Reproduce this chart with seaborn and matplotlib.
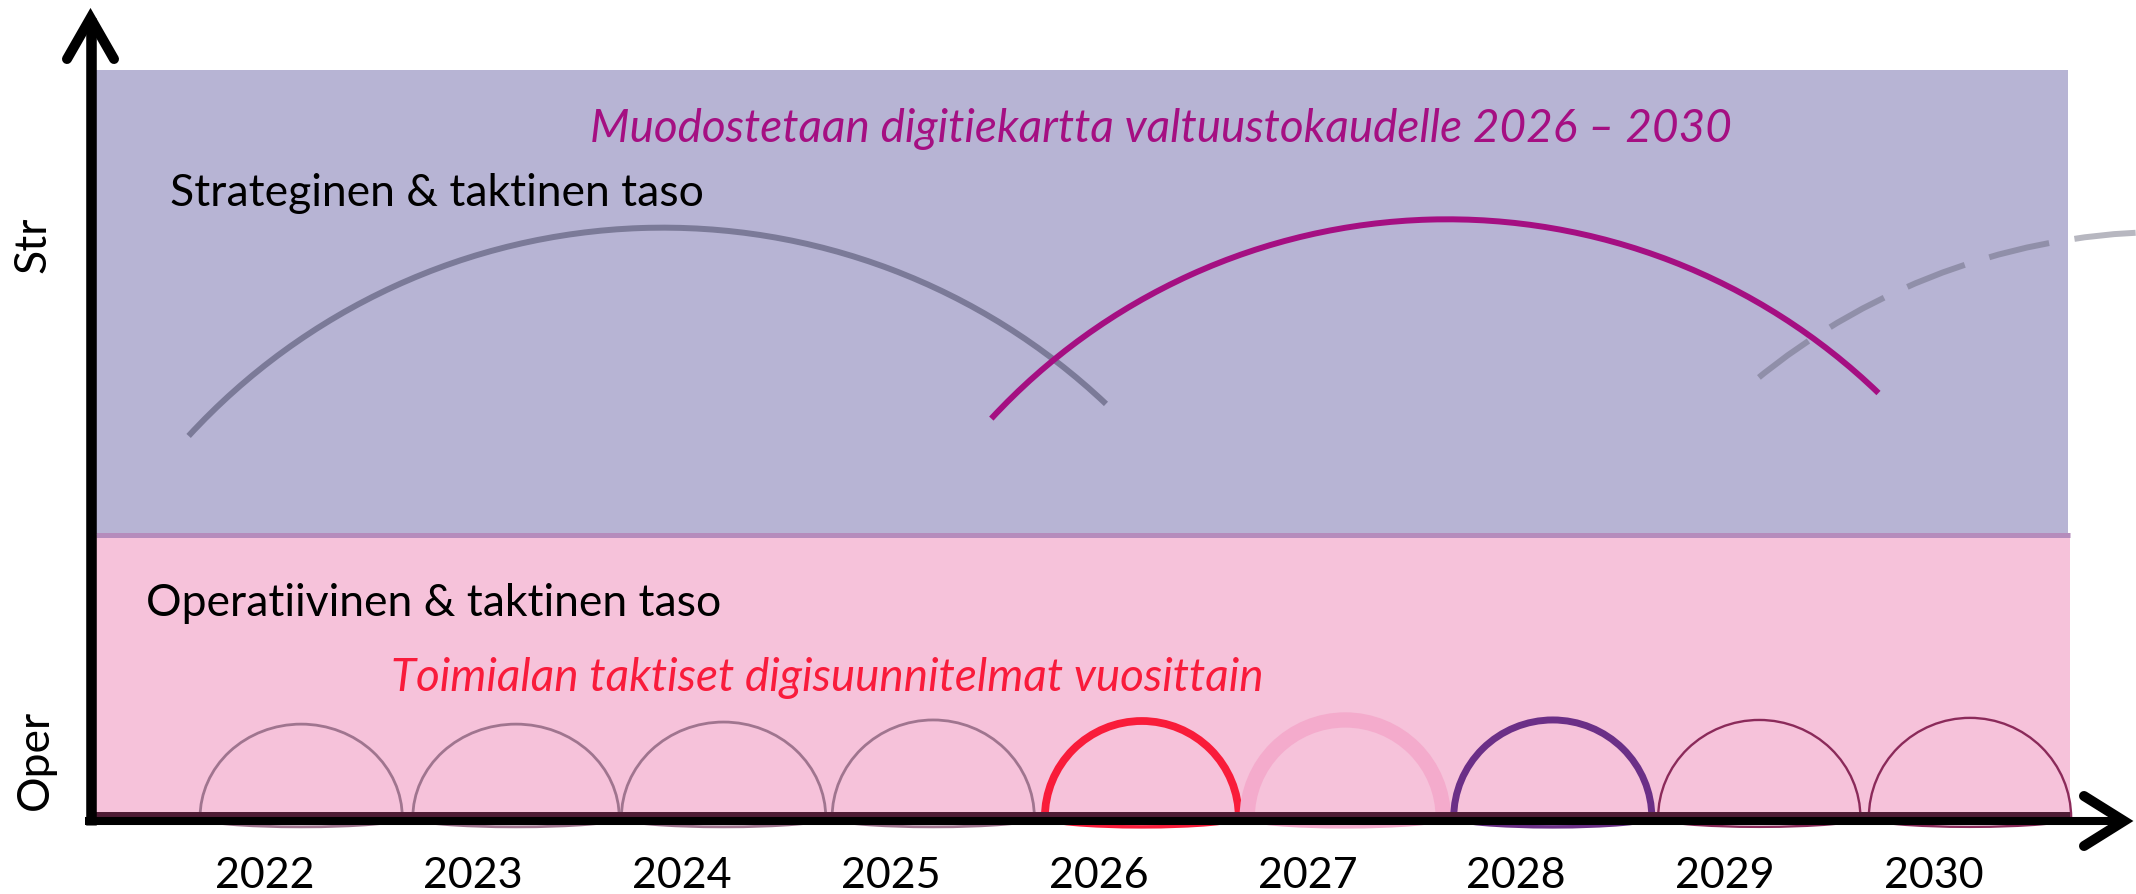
import numpy as np
import pandas as pd
import matplotlib.pyplot as plt
from matplotlib.patches import Arc, Rectangle
import seaborn as sns

sns.set_theme(style="white")
plt.rcParams['font.family'] = ['Lato', 'DejaVu Sans']

# timeline years (one yearly plan per year)
years = [2022, 2023, 2024, 2025, 2026, 2027, 2028, 2029, 2030]
year_labels = [str(y) for y in years]

# yearly tactical plans: start, span and height of each small arc (years / level units)
plan_start = [2022.00, 2023.02, 2024.02, 2025.03, 2026.05, 2027.02, 2028.01, 2028.99, 2030.00]
plan_span = [0.97, 0.99, 0.98, 0.97, 0.93, 0.94, 0.95, 0.97, 0.97]
plan_height = [0.45, 0.45, 0.46, 0.47, 0.465, 0.47, 0.47, 0.47, 0.48]
plan_colors = ['#a0758f', '#a0758f', '#a0758f', '#a0758f', '#f91c3a',
               '#f4abcc', '#6b2f87', '#8b2a5a', '#8b2a5a']
plan_lw = [2.0, 2.0, 2.0, 2.0, 5.6, 11.0, 5.0, 1.7, 1.7]

# council term roadmaps: big arcs (centre, radius, angle range)
term_cx = [2024.22, 2027.98, 2031.44]
term_cy = [-0.26, -0.11, -0.31]
term_r = [3.09, 2.98, 3.12]
term_theta1 = [46.6, 46.1, 46.9]
term_theta2 = [137.4, 137.2, 129.8]

plans = pd.DataFrame({'year': years, 'start': plan_start, 'span': plan_span,
                      'height': plan_height, 'color': plan_colors, 'lw': plan_lw})


def fx(p):
    # pixel column -> timeline units
    return 2022 + (p - 200) / 208.6


def fy(p):
    # pixel row -> level units
    return (819 - p) / 208.6


fig = plt.figure(figsize=(21.36, 8.95), dpi=100)
ax = fig.add_axes([0, 0, 1, 1])
ax.set_xlim(fx(0), fx(2136))
ax.set_ylim(fy(895), fy(0))
sns.despine(ax=ax, left=True, bottom=True)
ax.set_xticks([])
ax.set_yticks([])
ax.set_facecolor('white')

# background bands
ax.add_patch(Rectangle((fx(96), fy(535)), fx(2068) - fx(96), fy(71) - fy(535),
                       facecolor='#b7b4d4', edgecolor='none', zorder=0))
ax.add_patch(Rectangle((fx(96), fy(816)), fx(2070) - fx(96), fy(536) - fy(816),
                       facecolor='#f6c2da', edgecolor='none', zorder=0))
ax.plot([fx(96), fx(2070)], [fy(535.5), fy(535.5)], color='#b58cbc', lw=3.6, zorder=1,
        solid_capstyle='butt')

# big roadmap arcs
styles = [dict(color='#7b7a98', ls='-', alpha=1.0),
          dict(color='#a50f82', ls='-', alpha=1.0),
          dict(color='#66667a', ls=(0, (10.3, 4.3)), alpha=0.47)]
for i in range(len(term_cx)):
    st = styles[i]
    ax.add_patch(Arc((term_cx[i], term_cy[i]), 2 * term_r[i], 2 * term_r[i],
                     theta1=term_theta1[i], theta2=term_theta2[i],
                     color=st['color'], lw=4.3, linestyle=st['ls'], alpha=st['alpha'],
                     capstyle='butt', zorder=3 + (i == 1)))

# yearly plan arcs
for _, r in plans.iterrows():
    cx = r['start'] + r['span'] / 2
    ax.add_patch(Arc((cx, 0), r['span'], 2 * r['height'], theta1=0, theta2=180,
                     color=r['color'], lw=r['lw'], zorder=5))
    ax.add_patch(Arc((cx, 0), r['span'], 0.085, theta1=180, theta2=360,
                     color=r['color'], lw=min(r['lw'], 2.5), zorder=5))

# bottom edge of the operative band and the axes
ax.plot([fx(96), fx(2070)], [fy(816), fy(816)], color='#4e1b34', lw=4.3,
        solid_capstyle='butt', zorder=6)
ax.plot([fx(85), fx(2124)], [fy(822), fy(822)], color='black', lw=5.8,
        solid_capstyle='butt', zorder=7)
ax.plot([fx(90.5), fx(90.5)], [fy(826), fy(19)], color='black', lw=7.6,
        solid_capstyle='butt', zorder=7)
ax.plot([fx(67), fx(90.5), fx(114)], [fy(60), fy(19), fy(60)], color='black', lw=7.2,
        solid_capstyle='round', solid_joinstyle='miter', zorder=7)
ax.plot([fx(2084), fx(2124), fx(2084)], [fy(797), fy(822), fy(847)], color='black', lw=7.2,
        solid_capstyle='round', solid_joinstyle='miter', zorder=7)

# texts
ax.text(fx(170), fy(193), 'Strateginen & taktinen taso', fontsize=32, color='black',
        ha='left', va='center', zorder=8)
ax.text(fx(590), fy(129), 'Muodostetaan digitiekartta valtuustokaudelle 2026 – 2030',
        fontsize=33, color='#a50f82', style='italic', ha='left', va='center', zorder=8)
ax.text(fx(146), fy(603), 'Operatiivinen & taktinen taso', fontsize=32, color='black',
        ha='left', va='center', zorder=8)
ax.text(fx(391), fy(678), 'Toimialan taktiset digisuunnitelmat vuosittain',
        fontsize=33, color='#f91b3b', style='italic', ha='left', va='center', zorder=8)
ax.text(fx(33), fy(245), 'Str', fontsize=32, rotation=90, ha='center', va='center',
        color='black')
ax.text(fx(35), fy(760), 'Oper', fontsize=32, rotation=90, ha='center', va='center',
        color='black')
for y, lab in zip(years, year_labels):
    ax.text(y + 0.31, fy(876), lab, fontsize=31, ha='center', va='center', color='black')

fig.savefig('out.png', dpi=100)
